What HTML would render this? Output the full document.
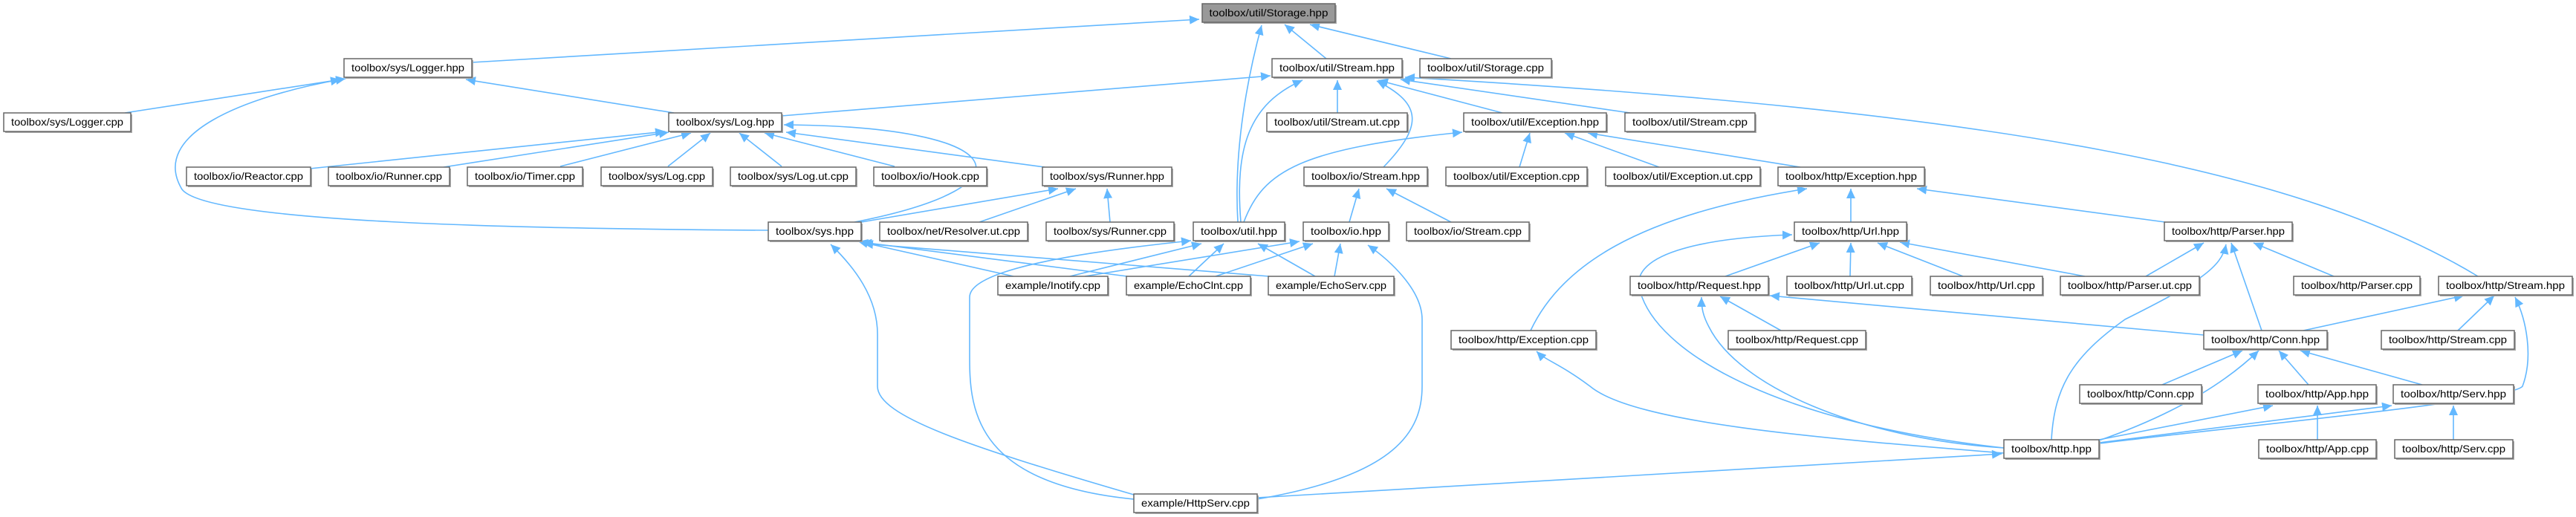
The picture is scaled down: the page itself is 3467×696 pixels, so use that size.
<!DOCTYPE html>
<html><head><meta charset="utf-8"><style>
html,body{margin:0;padding:0;background:#fff;}
svg{display:block;}
text{font-family:"Liberation Sans",sans-serif;font-size:14px;fill:#000;}
.n rect.b{fill:#fff;stroke:#666;stroke-width:1.5;}
.s{fill:#aaa;}
path{fill:none;stroke:#63b8ff;stroke-width:1.6;}
</style></head><body>
<svg width="3467" height="696" viewBox="0 0 3467 696" xmlns="http://www.w3.org/2000/svg">
<defs>
<marker id="a" markerUnits="userSpaceOnUse" markerWidth="14" markerHeight="12" refX="13" refY="6" orient="auto">
<polygon points="0,0 13,6 0,12" fill="#63b8ff"/>
</marker>
</defs>
<g marker-end="url(#a)">
<!-- Storage.hpp -->
<path d="M635,84 L1614,26"/>
<path d="M1785,79 L1729,33"/>
<path d="M1953,79 L1763,33"/>
<path d="M1666,299 C1660,200 1680,100 1698,34"/>
<!-- Logger.hpp -->
<path d="M168,152 L465,106"/>
<path d="M907,152 L627,107"/>
<path d="M1034,310 C700,308 280,300 245,255 C200,180 330,130 458,107"/>
<!-- util/Stream.hpp -->
<path d="M1052,156 L1710,102"/>
<path d="M1800,152 L1800,108"/>
<path d="M1862,225 C1915,170 1915,140 1853,109"/>
<path d="M2022,152 L1855,108"/>
<path d="M2194,152 L1885,107"/>
<path d="M1670,299 C1662,200 1680,140 1753,108"/>
<path d="M3335,372 C3100,230 2700,150 1891,104"/>
<!-- Log.hpp -->
<path d="M417,227 L895,177"/>
<path d="M597,225 L900,178"/>
<path d="M754,224 L930,179"/>
<path d="M899,224 L956,179"/>
<path d="M1052,224 L995,179"/>
<path d="M1204,224 L1029,179"/>
<path d="M1406,225 L1058,178"/>
<path d="M1150,299 C1400,250 1360,170 1055,168"/>
<!-- util/Exception.hpp -->
<path d="M1674,299 C1700,230 1750,200 1968,178"/>
<path d="M2045,225 L2059,179"/>
<path d="M2233,225 L2106,179"/>
<path d="M2423,225 L2137,179"/>
<!-- sys/Runner.hpp -->
<path d="M1159,299 L1424,254"/>
<path d="M1318,299 L1448,254"/>
<path d="M1494,299 L1490,254"/>
<!-- io/Stream.hpp -->
<path d="M1816,299 L1829,254"/>
<path d="M1953,299 L1866,254"/>
<!-- http/Exception.hpp -->
<path d="M2491,299 L2491,254"/>
<path d="M2914,299 L2580,254"/>
<path d="M2060,445 C2100,360 2200,290 2432,254"/>
<!-- sys.hpp -->
<path d="M1364,372 L1155,325"/>
<path d="M1517,372 L1160,326"/>
<path d="M1708,372 L1162,328"/>
<path d="M1526,666 C1300,600 1181,560 1181,520 L1181,450 C1181,400 1150,360 1118,329"/>
<!-- util.hpp -->
<path d="M1440,372 L1617,328"/>
<path d="M1600,372 L1647,328"/>
<path d="M1770,372 L1693,328"/>
<path d="M1526,672 C1300,650 1305,540 1305,470 L1305,400 C1305,370 1400,345 1603,324"/>
<!-- io.hpp -->
<path d="M1460,372 L1749,325"/>
<path d="M1636,372 L1767,328"/>
<path d="M1796,372 L1804,328"/>
<path d="M1692,672 C1880,640 1914,580 1914,520 L1914,430 C1914,390 1870,350 1841,330"/>
<!-- http.hpp <- HttpServ -->
<path d="M1692,670 L2694,611"/>
<!-- http/Exception.cpp <- http.hpp -->
<path d="M2697,610 C2450,590 2200,570 2140,520 C2100,490 2080,485 2068,473"/>
<!-- Url.hpp -->
<path d="M2697,603 C2400,570 2240,480 2210,400 C2180,340 2300,320 2412,316"/>
<path d="M2322,372 L2449,327"/>
<path d="M2490,372 L2491,327"/>
<path d="M2642,372 L2527,327"/>
<path d="M2806,372 L2557,326"/>
<!-- Parser.hpp -->
<path d="M2888,372 L2966,327"/>
<path d="M3044,445 L3003,327"/>
<path d="M3141,372 L3033,327"/>
<path d="M2761,592 C2765,520 2790,480 2860,430 C2960,380 2990,360 2996,329"/>
<!-- Request.hpp -->
<path d="M2397,445 L2315,399"/>
<path d="M2966,451 L2382,398"/>
<path d="M2697,603 C2500,590 2340,520 2300,440 C2292,425 2290,415 2290,400"/>
<!-- http/Stream.hpp -->
<path d="M3100,445 L3316,398"/>
<path d="M3308,445 L3357,398"/>
<path d="M2825,597 C3000,575 3380,540 3395,520 C3410,480 3400,430 3385,400"/>
<!-- Conn.hpp -->
<path d="M2910,518 L3018,472"/>
<path d="M3107,518 L3067,472"/>
<path d="M3260,518 L3096,472"/>
<path d="M2825,593 C2920,560 2990,520 3040,472"/>
<!-- App.hpp / Serv.hpp -->
<path d="M3119,592 L3119,546"/>
<path d="M2825,592 L3059,546"/>
<path d="M3302,592 L3302,546"/>
<path d="M2825,596 L3219,546"/>
</g>

<g class="n">
<!-- shadows + boxes + labels generated statically -->
<g id="nodes"></g>
</g>
<g font-family="Liberation Sans, sans-serif">
<rect x="1620" y="7" width="179" height="25" class="s"/><rect x="1618" y="5" width="179" height="25" fill="#999" stroke="#666" stroke-width="1.5"/><text x="1707.5" y="22" text-anchor="middle" textLength="160" lengthAdjust="spacingAndGlyphs">toolbox/util/Storage.hpp</text>

<rect x="465" y="81" width="172" height="25" class="s"/><rect x="463" y="79" width="172" height="25" fill="#fff" stroke="#666" stroke-width="1.5"/><text x="549" y="96" text-anchor="middle" textLength="152" lengthAdjust="spacingAndGlyphs">toolbox/sys/Logger.hpp</text>
<rect x="1714" y="81" width="175" height="25" class="s"/><rect x="1712" y="79" width="175" height="25" fill="#fff" stroke="#666" stroke-width="1.5"/><text x="1799.5" y="96" text-anchor="middle" textLength="155" lengthAdjust="spacingAndGlyphs">toolbox/util/Stream.hpp</text>
<rect x="1913" y="81" width="177" height="25" class="s"/><rect x="1911" y="79" width="177" height="25" fill="#fff" stroke="#666" stroke-width="1.5"/><text x="1999.5" y="96" text-anchor="middle" textLength="157" lengthAdjust="spacingAndGlyphs">toolbox/util/Storage.cpp</text>

<rect x="7" y="154" width="171" height="25" class="s"/><rect x="5" y="152" width="171" height="25" fill="#fff" stroke="#666" stroke-width="1.5"/><text x="90.5" y="169" text-anchor="middle" textLength="151" lengthAdjust="spacingAndGlyphs">toolbox/sys/Logger.cpp</text>
<rect x="902" y="154" width="152" height="25" class="s"/><rect x="900" y="152" width="152" height="25" fill="#fff" stroke="#666" stroke-width="1.5"/><text x="976" y="169" text-anchor="middle" textLength="132" lengthAdjust="spacingAndGlyphs">toolbox/sys/Log.hpp</text>
<rect x="1707" y="154" width="189" height="25" class="s"/><rect x="1705" y="152" width="189" height="25" fill="#fff" stroke="#666" stroke-width="1.5"/><text x="1799.5" y="169" text-anchor="middle" textLength="169" lengthAdjust="spacingAndGlyphs">toolbox/util/Stream.ut.cpp</text>
<rect x="1972" y="154" width="192" height="25" class="s"/><rect x="1970" y="152" width="192" height="25" fill="#fff" stroke="#666" stroke-width="1.5"/><text x="2066" y="169" text-anchor="middle" textLength="172" lengthAdjust="spacingAndGlyphs">toolbox/util/Exception.hpp</text>
<rect x="2189" y="154" width="175" height="25" class="s"/><rect x="2187" y="152" width="175" height="25" fill="#fff" stroke="#666" stroke-width="1.5"/><text x="2274.5" y="169" text-anchor="middle" textLength="155" lengthAdjust="spacingAndGlyphs">toolbox/util/Stream.cpp</text>

<rect x="253" y="227" width="167" height="25" class="s"/><rect x="251" y="225" width="167" height="25" fill="#fff" stroke="#666" stroke-width="1.5"/><text x="334.5" y="242" text-anchor="middle" textLength="147" lengthAdjust="spacingAndGlyphs">toolbox/io/Reactor.cpp</text>
<rect x="444" y="227" width="163" height="25" class="s"/><rect x="442" y="225" width="163" height="25" fill="#fff" stroke="#666" stroke-width="1.5"/><text x="523.5" y="242" text-anchor="middle" textLength="143" lengthAdjust="spacingAndGlyphs">toolbox/io/Runner.cpp</text>
<rect x="631" y="227" width="155" height="25" class="s"/><rect x="629" y="225" width="155" height="25" fill="#fff" stroke="#666" stroke-width="1.5"/><text x="706.5" y="242" text-anchor="middle" textLength="135" lengthAdjust="spacingAndGlyphs">toolbox/io/Timer.cpp</text>
<rect x="811" y="227" width="150" height="25" class="s"/><rect x="809" y="225" width="150" height="25" fill="#fff" stroke="#666" stroke-width="1.5"/><text x="884" y="242" text-anchor="middle" textLength="130" lengthAdjust="spacingAndGlyphs">toolbox/sys/Log.cpp</text>
<rect x="985" y="227" width="169" height="25" class="s"/><rect x="983" y="225" width="169" height="25" fill="#fff" stroke="#666" stroke-width="1.5"/><text x="1067.5" y="242" text-anchor="middle" textLength="149" lengthAdjust="spacingAndGlyphs">toolbox/sys/Log.ut.cpp</text>
<rect x="1178" y="227" width="152" height="25" class="s"/><rect x="1176" y="225" width="152" height="25" fill="#fff" stroke="#666" stroke-width="1.5"/><text x="1252" y="242" text-anchor="middle" textLength="132" lengthAdjust="spacingAndGlyphs">toolbox/io/Hook.cpp</text>
<rect x="1405" y="227" width="174" height="25" class="s"/><rect x="1403" y="225" width="174" height="25" fill="#fff" stroke="#666" stroke-width="1.5"/><text x="1490" y="242" text-anchor="middle" textLength="154" lengthAdjust="spacingAndGlyphs">toolbox/sys/Runner.hpp</text>
<rect x="1757" y="227" width="166" height="25" class="s"/><rect x="1755" y="225" width="166" height="25" fill="#fff" stroke="#666" stroke-width="1.5"/><text x="1838" y="242" text-anchor="middle" textLength="146" lengthAdjust="spacingAndGlyphs">toolbox/io/Stream.hpp</text>
<rect x="1948" y="227" width="190" height="25" class="s"/><rect x="1946" y="225" width="190" height="25" fill="#fff" stroke="#666" stroke-width="1.5"/><text x="2041" y="242" text-anchor="middle" textLength="170" lengthAdjust="spacingAndGlyphs">toolbox/util/Exception.cpp</text>
<rect x="2163" y="227" width="208" height="25" class="s"/><rect x="2161" y="225" width="208" height="25" fill="#fff" stroke="#666" stroke-width="1.5"/><text x="2265" y="242" text-anchor="middle" textLength="188" lengthAdjust="spacingAndGlyphs">toolbox/util/Exception.ut.cpp</text>
<rect x="2395" y="227" width="197" height="25" class="s"/><rect x="2393" y="225" width="197" height="25" fill="#fff" stroke="#666" stroke-width="1.5"/><text x="2491.5" y="242" text-anchor="middle" textLength="177" lengthAdjust="spacingAndGlyphs">toolbox/http/Exception.hpp</text>

<rect x="1036" y="301" width="125" height="25" class="s"/><rect x="1034" y="299" width="125" height="25" fill="#fff" stroke="#666" stroke-width="1.5"/><text x="1096.5" y="316" text-anchor="middle" textLength="105" lengthAdjust="spacingAndGlyphs">toolbox/sys.hpp</text>
<rect x="1186" y="301" width="199" height="25" class="s"/><rect x="1184" y="299" width="199" height="25" fill="#fff" stroke="#666" stroke-width="1.5"/><text x="1283.5" y="316" text-anchor="middle" textLength="179" lengthAdjust="spacingAndGlyphs">toolbox/net/Resolver.ut.cpp</text>
<rect x="1410" y="301" width="172" height="25" class="s"/><rect x="1408" y="299" width="172" height="25" fill="#fff" stroke="#666" stroke-width="1.5"/><text x="1494" y="316" text-anchor="middle" textLength="152" lengthAdjust="spacingAndGlyphs">toolbox/sys/Runner.cpp</text>
<rect x="1608" y="301" width="123" height="25" class="s"/><rect x="1606" y="299" width="123" height="25" fill="#fff" stroke="#666" stroke-width="1.5"/><text x="1667.5" y="316" text-anchor="middle" textLength="103" lengthAdjust="spacingAndGlyphs">toolbox/util.hpp</text>
<rect x="1756" y="301" width="115" height="25" class="s"/><rect x="1754" y="299" width="115" height="25" fill="#fff" stroke="#666" stroke-width="1.5"/><text x="1811.5" y="316" text-anchor="middle" textLength="95" lengthAdjust="spacingAndGlyphs">toolbox/io.hpp</text>
<rect x="1895" y="301" width="165" height="25" class="s"/><rect x="1893" y="299" width="165" height="25" fill="#fff" stroke="#666" stroke-width="1.5"/><text x="1975.5" y="316" text-anchor="middle" textLength="145" lengthAdjust="spacingAndGlyphs">toolbox/io/Stream.cpp</text>
<rect x="2417" y="301" width="151" height="25" class="s"/><rect x="2415" y="299" width="151" height="25" fill="#fff" stroke="#666" stroke-width="1.5"/><text x="2490.5" y="316" text-anchor="middle" textLength="131" lengthAdjust="spacingAndGlyphs">toolbox/http/Url.hpp</text>
<rect x="2915" y="301" width="172" height="25" class="s"/><rect x="2913" y="299" width="172" height="25" fill="#fff" stroke="#666" stroke-width="1.5"/><text x="2999" y="316" text-anchor="middle" textLength="152" lengthAdjust="spacingAndGlyphs">toolbox/http/Parser.hpp</text>

<rect x="1345" y="374" width="148" height="25" class="s"/><rect x="1343" y="372" width="148" height="25" fill="#fff" stroke="#666" stroke-width="1.5"/><text x="1417" y="389" text-anchor="middle" textLength="128" lengthAdjust="spacingAndGlyphs">example/Inotify.cpp</text>
<rect x="1518" y="374" width="167" height="25" class="s"/><rect x="1516" y="372" width="167" height="25" fill="#fff" stroke="#666" stroke-width="1.5"/><text x="1599.5" y="389" text-anchor="middle" textLength="147" lengthAdjust="spacingAndGlyphs">example/EchoClnt.cpp</text>
<rect x="1709" y="374" width="169" height="25" class="s"/><rect x="1707" y="372" width="169" height="25" fill="#fff" stroke="#666" stroke-width="1.5"/><text x="1791.5" y="389" text-anchor="middle" textLength="149" lengthAdjust="spacingAndGlyphs">example/EchoServ.cpp</text>
<rect x="2196" y="374" width="186" height="25" class="s"/><rect x="2194" y="372" width="186" height="25" fill="#fff" stroke="#666" stroke-width="1.5"/><text x="2287" y="389" text-anchor="middle" textLength="166" lengthAdjust="spacingAndGlyphs">toolbox/http/Request.hpp</text>
<rect x="2407" y="374" width="168" height="25" class="s"/><rect x="2405" y="372" width="168" height="25" fill="#fff" stroke="#666" stroke-width="1.5"/><text x="2489" y="389" text-anchor="middle" textLength="148" lengthAdjust="spacingAndGlyphs">toolbox/http/Url.ut.cpp</text>
<rect x="2600" y="374" width="151" height="25" class="s"/><rect x="2598" y="372" width="151" height="25" fill="#fff" stroke="#666" stroke-width="1.5"/><text x="2673.5" y="389" text-anchor="middle" textLength="131" lengthAdjust="spacingAndGlyphs">toolbox/http/Url.cpp</text>
<rect x="2775" y="374" width="187" height="25" class="s"/><rect x="2773" y="372" width="187" height="25" fill="#fff" stroke="#666" stroke-width="1.5"/><text x="2866.5" y="389" text-anchor="middle" textLength="167" lengthAdjust="spacingAndGlyphs">toolbox/http/Parser.ut.cpp</text>
<rect x="3089" y="374" width="170" height="25" class="s"/><rect x="3087" y="372" width="170" height="25" fill="#fff" stroke="#666" stroke-width="1.5"/><text x="3172" y="389" text-anchor="middle" textLength="150" lengthAdjust="spacingAndGlyphs">toolbox/http/Parser.cpp</text>
<rect x="3284" y="374" width="180" height="25" class="s"/><rect x="3282" y="372" width="180" height="25" fill="#fff" stroke="#666" stroke-width="1.5"/><text x="3372" y="389" text-anchor="middle" textLength="160" lengthAdjust="spacingAndGlyphs">toolbox/http/Stream.hpp</text>

<rect x="1955" y="447" width="195" height="25" class="s"/><rect x="1953" y="445" width="195" height="25" fill="#fff" stroke="#666" stroke-width="1.5"/><text x="2050.5" y="462" text-anchor="middle" textLength="175" lengthAdjust="spacingAndGlyphs">toolbox/http/Exception.cpp</text>
<rect x="2328" y="447" width="185" height="25" class="s"/><rect x="2326" y="445" width="185" height="25" fill="#fff" stroke="#666" stroke-width="1.5"/><text x="2418.5" y="462" text-anchor="middle" textLength="165" lengthAdjust="spacingAndGlyphs">toolbox/http/Request.cpp</text>
<rect x="2968" y="447" width="166" height="25" class="s"/><rect x="2966" y="445" width="166" height="25" fill="#fff" stroke="#666" stroke-width="1.5"/><text x="3049" y="462" text-anchor="middle" textLength="146" lengthAdjust="spacingAndGlyphs">toolbox/http/Conn.hpp</text>
<rect x="3207" y="447" width="179" height="25" class="s"/><rect x="3205" y="445" width="179" height="25" fill="#fff" stroke="#666" stroke-width="1.5"/><text x="3294.5" y="462" text-anchor="middle" textLength="159" lengthAdjust="spacingAndGlyphs">toolbox/http/Stream.cpp</text>

<rect x="2801" y="520" width="164" height="25" class="s"/><rect x="2799" y="518" width="164" height="25" fill="#fff" stroke="#666" stroke-width="1.5"/><text x="2881" y="535" text-anchor="middle" textLength="144" lengthAdjust="spacingAndGlyphs">toolbox/http/Conn.cpp</text>
<rect x="3041" y="520" width="159" height="25" class="s"/><rect x="3039" y="518" width="159" height="25" fill="#fff" stroke="#666" stroke-width="1.5"/><text x="3118.5" y="535" text-anchor="middle" textLength="139" lengthAdjust="spacingAndGlyphs">toolbox/http/App.hpp</text>
<rect x="3223" y="520" width="162" height="25" class="s"/><rect x="3221" y="518" width="162" height="25" fill="#fff" stroke="#666" stroke-width="1.5"/><text x="3302" y="535" text-anchor="middle" textLength="142" lengthAdjust="spacingAndGlyphs">toolbox/http/Serv.hpp</text>

<rect x="2699" y="594" width="128" height="25" class="s"/><rect x="2697" y="592" width="128" height="25" fill="#fff" stroke="#666" stroke-width="1.5"/><text x="2761" y="609" text-anchor="middle" textLength="108" lengthAdjust="spacingAndGlyphs">toolbox/http.hpp</text>
<rect x="3042" y="594" width="158" height="25" class="s"/><rect x="3040" y="592" width="158" height="25" fill="#fff" stroke="#666" stroke-width="1.5"/><text x="3119" y="609" text-anchor="middle" textLength="138" lengthAdjust="spacingAndGlyphs">toolbox/http/App.cpp</text>
<rect x="3225" y="594" width="159" height="25" class="s"/><rect x="3223" y="592" width="159" height="25" fill="#fff" stroke="#666" stroke-width="1.5"/><text x="3302.5" y="609" text-anchor="middle" textLength="139" lengthAdjust="spacingAndGlyphs">toolbox/http/Serv.cpp</text>

<rect x="1528" y="667" width="166" height="25" class="s"/><rect x="1526" y="665" width="166" height="25" fill="#fff" stroke="#666" stroke-width="1.5"/><text x="1609" y="682" text-anchor="middle" textLength="146" lengthAdjust="spacingAndGlyphs">example/HttpServ.cpp</text>
</g>
</svg>
</body></html>
